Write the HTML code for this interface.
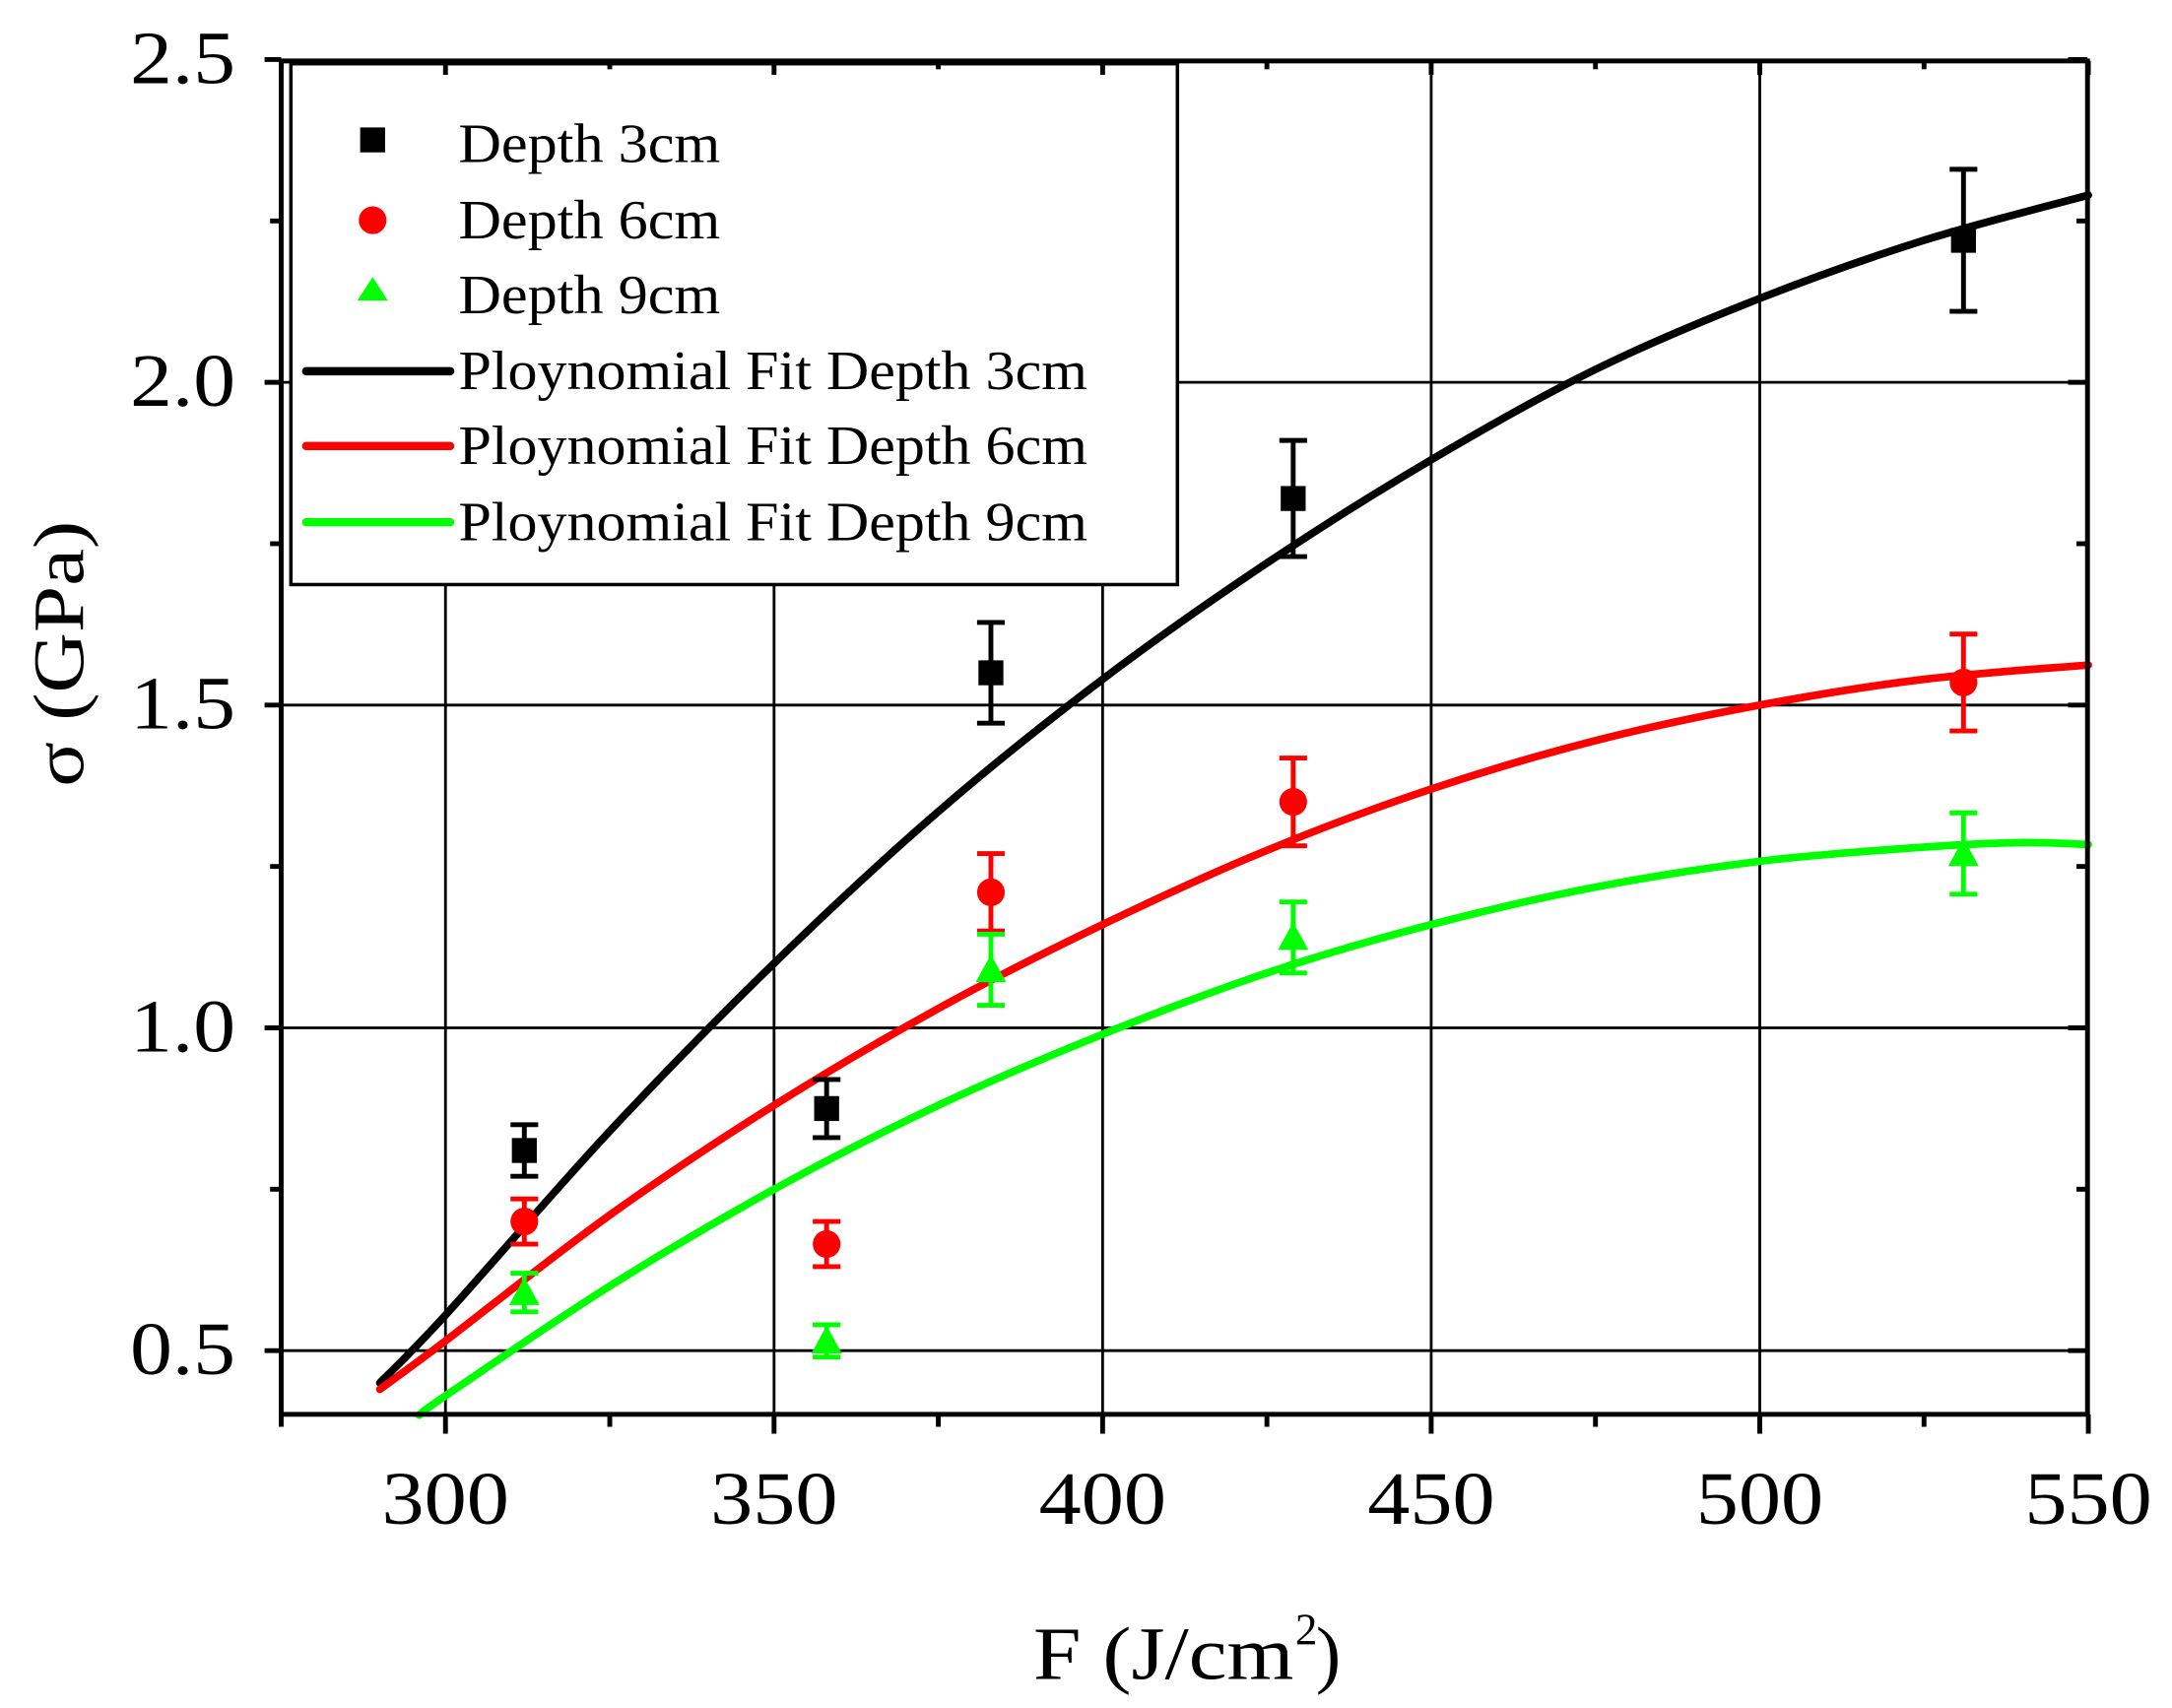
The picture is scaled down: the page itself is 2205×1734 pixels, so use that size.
<!DOCTYPE html>
<html><head><meta charset="utf-8"><style>html,body{margin:0;padding:0;background:#fff}svg{display:block}svg text{font-family:"Liberation Serif",serif}</style></head>
<body>
<svg id="s" width="2205" height="1734" viewBox="0 0 1568 1233" preserveAspectRatio="none" xmlns="http://www.w3.org/2000/svg">
<rect width="1568" height="1233" fill="#fff"/>
<g id="grid" stroke="#000" stroke-width="2"></g>
<g id="curves" fill="none" stroke-width="5.5" stroke-linejoin="round" stroke-linecap="round"></g>
<g id="pts"></g>
<rect x="210" y="46" width="640" height="376" fill="#fff" stroke="#000" stroke-width="2.5"/>
<g id="frame" stroke="#000" stroke-width="3.5" fill="none"></g>
<g font-size="40" fill="#000">
<rect x="260" y="92" width="18" height="18" fill="#000"/>
<circle cx="269" cy="159" r="10" fill="#f00"/>
<polygon points="269,200 258,217 280,217" fill="#0f0"/>
<line x1="221" y1="268" x2="325" y2="268" stroke="#000" stroke-width="6" stroke-linecap="round"/>
<line x1="221" y1="322" x2="325" y2="322" stroke="#f00" stroke-width="6" stroke-linecap="round"/>
<line x1="221" y1="377" x2="325" y2="377" stroke="#0f0" stroke-width="6" stroke-linecap="round"/>
<text x="331" y="117" textLength="189" lengthAdjust="spacingAndGlyphs">Depth 3cm</text>
<text x="331" y="172" textLength="189" lengthAdjust="spacingAndGlyphs">Depth 6cm</text>
<text x="331" y="226" textLength="189" lengthAdjust="spacingAndGlyphs">Depth 9cm</text>
<text x="331" y="281" textLength="454" lengthAdjust="spacingAndGlyphs">Ploynomial Fit Depth 3cm</text>
<text x="331" y="335" textLength="454" lengthAdjust="spacingAndGlyphs">Ploynomial Fit Depth 6cm</text>
<text x="331" y="390" textLength="454" lengthAdjust="spacingAndGlyphs">Ploynomial Fit Depth 9cm</text>
</g>
<g id="labels" font-size="54" fill="#000"></g>
<text x="746" y="1212" font-size="54" textLength="188" lengthAdjust="spacingAndGlyphs">F  (J/cm</text>
<text x="935" y="1187" font-size="32">2</text>
<text x="950" y="1212" font-size="54">)</text>
<text transform="translate(60,568) rotate(-90)" font-size="52" textLength="192" lengthAdjust="spacingAndGlyphs">σ  (GPa)</text>
</svg>
<script>
const NS="http://www.w3.org/2000/svg";
const X=v=>203+(v-275)*4.744, Y=v=>975-(v-0.5)*466;
function el(p,t,a){const e=document.createElementNS(NS,t);for(const k in a)e.setAttribute(k,a[k]);document.getElementById(p).appendChild(e);return e;}
for(const v of [300,350,400,450,500]) el("grid","line",{x1:X(v),x2:X(v),y1:44,y2:1021});
for(const v of [0.5,1.0,1.5,2.0]) el("grid","line",{x1:203,x2:1507,y1:Y(v),y2:Y(v)});
el("frame","rect",{x:203,y:44,width:1304,height:977});
for(let v=275;v<=550;v+=25){const big=v%50==0;const x=X(v);
 el("frame","line",{x1:x,x2:x,y1:1021,y2:1021+(big?14:9)});
 el("frame","line",{x1:x,x2:x,y1:44,y2:44+(big?10:6)});}
for(let v=0.5;v<=2.51;v+=0.25){const big=Math.abs(v*2-Math.round(v*2))<1e-6;const y=Y(v);
 el("frame","line",{x1:203-(big?12:8),x2:203,y1:y,y2:y});
 el("frame","line",{x1:1507-(big?14:8),x2:1507,y1:y,y2:y});}
for(const v of [300,350,400,450,500,550]){const t=el("labels","text",{x:X(v),y:1100,"text-anchor":"middle",textLength:92,lengthAdjust:"spacingAndGlyphs"});t.textContent=v;}
for(const v of [0.5,1.0,1.5,2.0,2.5]){const t=el("labels","text",{x:170,y:Y(v)+17,"text-anchor":"end",textLength:76,lengthAdjust:"spacingAndGlyphs"});t.textContent=v.toFixed(1);}
function curve(pts,col){const p=pts.map(([a,b])=>[X(a),Y(b)]);let d="M"+p[0];
 for(let i=0;i<p.length-1;i++){const p0=p[Math.max(0,i-1)],p1=p[i],p2=p[i+1],p3=p[Math.min(p.length-1,i+2)];
  d+=" C"+(p1[0]+(p2[0]-p0[0])/6)+","+(p1[1]+(p2[1]-p0[1])/6)+" "+(p2[0]-(p3[0]-p1[0])/6)+","+(p2[1]-(p3[1]-p1[1])/6)+" "+p2;}
 el("curves","path",{d:d,stroke:col});}
curve([[290,0.45],[300,0.555],[325,0.84],[350,1.10],[375,1.335],[400,1.54],[425,1.72],[450,1.88],[475,2.02],[500,2.13],[525,2.22],[550,2.29]],"#000");
curve([[290,0.44],[300,0.515],[325,0.71],[350,0.88],[375,1.03],[400,1.16],[425,1.275],[450,1.37],[475,1.445],[500,1.50],[525,1.54],[550,1.562]],"#f00");
curve([[296,0.40],[300,0.43],[325,0.60],[350,0.75],[375,0.88],[400,0.99],[425,1.085],[450,1.16],[475,1.218],[500,1.258],[525,1.28],[540,1.287],[550,1.284]],"#0f0");
const xs=[312,358,383,429,531];
const data=[["#000","s",[[0.81,0.04],[0.875,0.045],[1.55,0.078],[1.82,0.09],[2.22,0.11]]],
 ["#f00","c",[[0.70,0.035],[0.665,0.035],[1.21,0.06],[1.35,0.068],[1.535,0.075]]],
 ["#0f0","t",[[0.59,0.03],[0.515,0.025],[1.09,0.055],[1.14,0.055],[1.27,0.063]]]];
for(const [col,sh,arr] of data){arr.forEach(([v,e],i)=>{const x=X(xs[i]),y=Y(v),y1=Y(v+e),y2=Y(v-e);
 el("pts","line",{x1:x,x2:x,y1:y1,y2:y2,stroke:col,"stroke-width":3.5});
 el("pts","line",{x1:x-10,x2:x+10,y1:y1,y2:y1,stroke:col,"stroke-width":3.5});
 el("pts","line",{x1:x-10,x2:x+10,y1:y2,y2:y2,stroke:col,"stroke-width":3.5});
 if(sh=="s")el("pts","rect",{x:x-9,y:y-9,width:18,height:18,fill:col});
 else if(sh=="c")el("pts","circle",{cx:x,cy:y,r:10,fill:col});
 else el("pts","polygon",{points:`${x},${y-11} ${x-11},${y+9} ${x+11},${y+9}`,fill:col});});}
</script>
</body></html>
